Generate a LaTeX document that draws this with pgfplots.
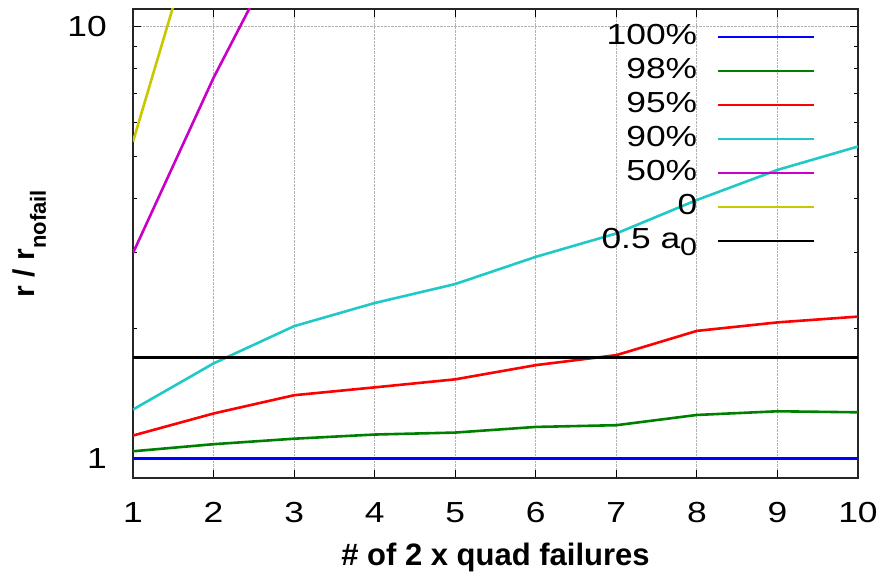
\documentclass[border=0pt]{standalone}
\usepackage{pgfplots}
\pgfplotsset{compat=1.18}
\usepackage{fontspec}
\setmainfont{Liberation Sans}
\newfontfamily\widefont{Liberation Sans}[FakeStretch=1.22]

\definecolor{cblue}{RGB}{0,0,255}
\definecolor{cgreen}{RGB}{0,128,0}
\definecolor{cred}{RGB}{255,0,0}
\definecolor{ccyan}{RGB}{32,200,200}
\definecolor{cmagenta}{RGB}{200,0,200}
\definecolor{cyellow}{RGB}{200,200,0}

\begin{document}
\begin{tikzpicture}
\useasboundingbox (-133pt,-98pt) rectangle (746pt,478pt);
\begin{axis}[
  scale only axis, width=725pt, height=469pt,
  ymode=log, xmin=1, xmax=10, ymin=0.9, ymax=11,
  xtick={1,...,10},
  ytick={1,10}, yticklabels={1,10},
  xmajorgrids, ymajorgrids,
  grid style={densely dotted, gray!60, line width=0.8pt},
  major tick length=8pt, minor tick length=4pt,
  tick style={black, line width=0.8pt},
  axis line style={line width=1.2pt, black!85},
  /pgf/number format/assume math mode=true,
  tick label style={font=\widefont\fontsize{29}{29}\selectfont},
  yticklabel style={inner sep=0pt, xshift=-26pt},
  xticklabel style={inner sep=0pt, yshift=-24pt},
  xlabel={\bfseries \# of 2 x quad failures},
  xlabel style={font=\fontsize{31}{31}\selectfont, at={(axis description cs:0.5,-0.1876)}, anchor=base},
  ylabel={\bfseries r / r\raisebox{-11pt}{\fontsize{22}{22}\selectfont\bfseries nofail}},
  ylabel style={font=\fontsize{30}{30}\selectfont, at={(axis description cs:-0.1352,0.5)}, anchor=base},
  legend style={draw=none, fill=none, at={(axis description cs:0.9407,0.9723)}, anchor=north east,
    inner sep=0pt, row sep=4pt, column sep=19pt, font=\widefont\fontsize{29}{29}\selectfont,
    nodes={inner sep=0pt, text height=22pt, text depth=8pt}},
  legend cell align=right, legend plot pos=right,
  legend image code/.code={\draw[#1] (0pt,0pt) -- (96pt,0pt);},
  every axis plot/.append style={line width=2.6pt},
]
\addplot[cblue] coordinates {(1,1) (2,1) (3,1) (4,1) (5,1) (6,1) (7,1) (8,1) (9,1) (10,1)};
\addlegendentry{100\%}
\addplot[cgreen] coordinates {(1,1.038) (2,1.078) (3,1.11) (4,1.135) (5,1.147) (6,1.182) (7,1.193) (8,1.26) (9,1.285) (10,1.278)};
\addlegendentry{98\%}
\addplot[cred] coordinates {(1,1.129) (2,1.27) (3,1.40) (4,1.46) (5,1.524) (6,1.644) (7,1.734) (8,1.974) (9,2.065) (10,2.13)};
\addlegendentry{95\%}
\addplot[ccyan] coordinates {(1,1.297) (2,1.659) (3,2.024) (4,2.29) (5,2.534) (6,2.93) (7,3.32) (8,3.97) (9,4.66) (10,5.28)};
\addlegendentry{90\%}
\addplot[cmagenta] coordinates {(1,2.99) (2,7.62) (3,17.5)};
\addlegendentry{50\%}
\addplot[cyellow] coordinates {(1,5.42) (2,23)};
\addlegendentry{0}
\addplot[black] coordinates {(1,1.713) (10,1.713)};
\addlegendentry{0.5 a\raisebox{-7pt}{\fontsize{25}{25}\selectfont 0}}
\end{axis}
\end{tikzpicture}
\end{document}
